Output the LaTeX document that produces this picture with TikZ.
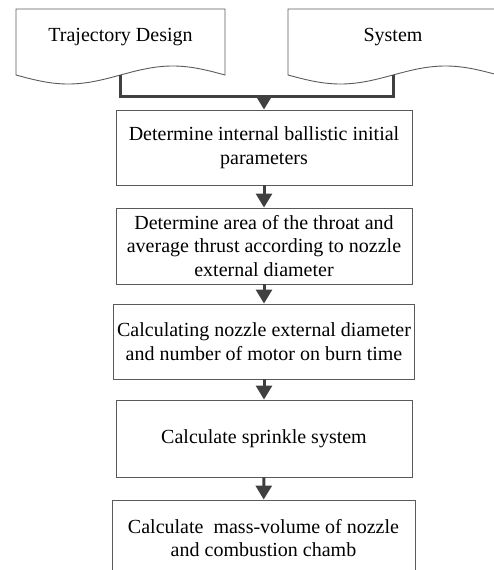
\documentclass[tikz,border=0pt]{standalone}
\usepackage{fontspec}
\setmainfont{Liberation Serif}
\usepackage{tikz}
\usetikzlibrary{arrows.meta}

\definecolor{boxgray}{HTML}{5A5A5A}
\definecolor{flowgray}{HTML}{404040}

\begin{document}
\begin{tikzpicture}[x=1pt,y=-1pt,>={Triangle[width=16pt,length=14pt]}]
        \tikzstyle{every node} = [rectangle, font=\fontsize{20}{23.5}\selectfont, align=center]
        \tikzstyle{stage} = [draw=boxgray, line width=0.9pt, minimum width=296pt]
        \tikzstyle{doc} = [draw=boxgray, line width=0.9pt]
        \tikzstyle{flow} = [draw=flowgray, line width=3pt]
        \useasboundingbox (0,0) rectangle (494,570);
        \draw[doc] (16,9) -- (16,75) sin (68.25,84) cos (120.5,75) sin (172.75,66) cos (225,75) -- (225,9) -- cycle;
        \draw[doc] (288,9) -- (288,75) sin (340.5,84) cos (393,75) sin (445.5,66) cos (498,75) -- (498,9) -- cycle;
        \node (traj) at (120.5,37) {Trajectory Design};
        \node (sys) at (393,37) {System};
        \node[stage, minimum height=75pt] (init) at (264,147.5) {Determine internal ballistic initial\\parameters};
        \node[stage, minimum height=76pt] (throat) at (264,246) {Determine area of the throat and\\average thrust according to nozzle\\external diameter};
        \node[stage, minimum height=75pt] (diam) at (264,341.5) {Calculating nozzle external diameter\\and number of motor on burn time};
        \node[stage, minimum height=77pt] (sprink) at (264,438.5) {Calculate sprinkle system};
        \node[stage, minimum height=76pt, minimum width=303pt] (mass) at (263.5,538) {Calculate~~mass-volume of nozzle\\and combustion chamb};
        \coordinate (trajout) at (120.5,75);
        \coordinate (sysout) at (393,75);
        \coordinate (merge) at (264,96);
        \draw[flow] (trajout) |- (sysout |- merge) -- (sysout);
        \draw[flow,->] (merge) -- (init);
        \foreach \from/\to in {init/throat, throat/diam, diam/sprink, sprink/mass}
            \draw[flow,->] (\from) -- (\to);
\end{tikzpicture}
\end{document}
